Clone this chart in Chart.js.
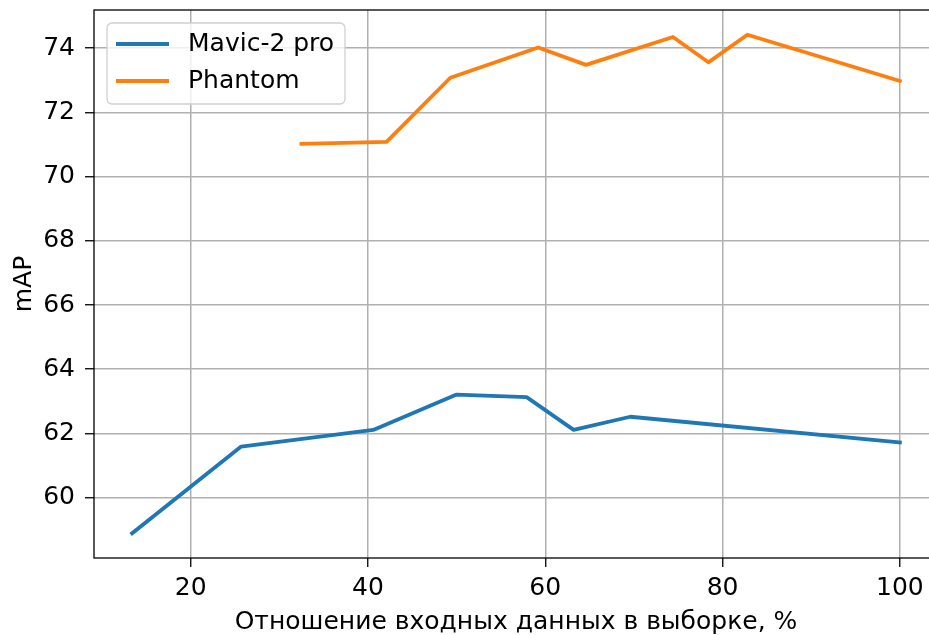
<!DOCTYPE html>
<html>
<head>
<meta charset="utf-8">
<script src="https://cdn.jsdelivr.net/npm/chart.js@4"></script>
<style>
  html, body { margin: 0; padding: 0; background: #fff; overflow: hidden; }
  #wrap { width: 945px; height: 635px; }
</style>
</head>
<body>
<div id="wrap"><canvas id="chartMap" width="945" height="635"></canvas></div>
<script>
// ===== mAP vs доля входных данных =====

const mavicX = [13.4, 25.7, 40.6, 50.0, 57.9, 63.2, 69.6, 100];
const mavicY = [58.89, 61.59, 62.11, 63.21, 63.13, 62.11, 62.52, 61.72];
const phantomX = [32.5, 42.1, 49.3, 59.2, 64.6, 74.4, 78.4, 82.8, 100];
const phantomY = [71.02, 71.08, 73.08, 74.02, 73.48, 74.35, 73.56, 74.42, 72.98];
const xTicks = [20, 40, 60, 80, 100];
const yTicks = [60, 62, 64, 66, 68, 70, 72, 74];
const seriesNames = ['Mavic-2 pro', 'Phantom'];
const xTitle = 'Отношение входных данных в выборке, %';
const yTitle = 'mAP';

const FONT = '"DejaVu Sans", sans-serif';
const FS = 25;
const BLUE = '#1f77b4';
const ORANGE = '#ff7f0e';

const toPts = (xs, ys) => xs.map((x, i) => ({ x, y: ys[i] }));

// рамка вокруг области графика (как spines в matplotlib)
const framePlugin = {
  id: 'frame',
  afterDatasetsDraw(chart) {
    const { ctx, chartArea: a } = chart;
    ctx.save();
    ctx.strokeStyle = '#000';
    ctx.lineWidth = 1.3;
    ctx.strokeRect(a.left, a.top, a.right - a.left, a.bottom - a.top);
    ctx.restore();
  },
};

// легенда внутри области, левый верхний угол
const legendPlugin = {
  id: 'innerLegend',
  afterDraw(chart) {
    const { ctx } = chart;
    const x = 107, y = 23, w = 238, h = 81, r = 5;
    ctx.save();
    ctx.beginPath();
    ctx.roundRect(x, y, w, h, r);
    ctx.fillStyle = 'rgba(255,255,255,0.8)';
    ctx.fill();
    ctx.strokeStyle = '#d0d0d0';
    ctx.lineWidth = 1.3;
    ctx.stroke();
    ctx.font = FS + 'px ' + FONT;
    ctx.textBaseline = 'middle';
    ctx.fillStyle = '#000';
    chart.data.datasets.forEach((ds, i) => {
      const ly = 44 + i * 37;
      ctx.strokeStyle = ds.borderColor;
      ctx.lineWidth = 3.8;
      ctx.beginPath();
      ctx.moveTo(116, ly);
      ctx.lineTo(169, ly);
      ctx.stroke();
      ctx.fillText(ds.label, 188, ly);
    });
    ctx.restore();
  },
};

new Chart(document.getElementById('chartMap'), {
  type: 'line',
  data: {
    datasets: [
      { label: seriesNames[0], data: toPts(mavicX, mavicY), borderColor: BLUE, backgroundColor: BLUE },
      { label: seriesNames[1], data: toPts(phantomX, phantomY), borderColor: ORANGE, backgroundColor: ORANGE },
    ],
  },
  options: {
    responsive: false,
    animation: false,
    layout: { padding: { top: 10, right: 7, left: 0, bottom: 0 } },
    elements: {
      line: { borderWidth: 3.8, tension: 0, fill: false, borderCapStyle: 'square', borderJoinStyle: 'round' },
      point: { radius: 0, hoverRadius: 0 },
    },
    plugins: { legend: { display: false }, tooltip: { enabled: false } },
    scales: {
      x: {
        type: 'linear',
        min: 9.1,
        max: 104.3,
        afterBuildTicks: s => { s.ticks = xTicks.map(v => ({ value: v })); },
        afterFit: s => { s.height = 77; s.paddingLeft = 0; s.paddingRight = 0; },
        grid: { color: '#b0b0b0', lineWidth: 1.5, tickColor: '#000', tickWidth: 1.3, tickLength: 9 },
        border: { display: false },
        ticks: { color: '#000', font: { family: FONT, size: FS, lineHeight: 1.2 }, padding: 6, maxRotation: 0 },
        title: { display: true, text: xTitle, color: '#000', font: { family: FONT, size: FS, lineHeight: 1 }, padding: 0 },
      },
      y: {
        min: 58.12,
        max: 75.19,
        afterBuildTicks: s => { s.ticks = yTicks.map(v => ({ value: v })); },
        afterFit: s => { s.width = 94; s.paddingTop = 0; s.paddingBottom = 0; },
        grid: { color: '#b0b0b0', lineWidth: 1.5, tickColor: '#000', tickWidth: 1.3, tickLength: 9 },
        border: { display: false },
        ticks: { color: '#000', font: { family: FONT, size: FS }, padding: 10 },
        title: { display: true, text: yTitle, color: '#000', font: { family: FONT, size: FS, lineHeight: 1 }, padding: { top: 12, bottom: 0 } },
      },
    },
  },
  plugins: [framePlugin, legendPlugin],
});
</script>
</body>
</html>
